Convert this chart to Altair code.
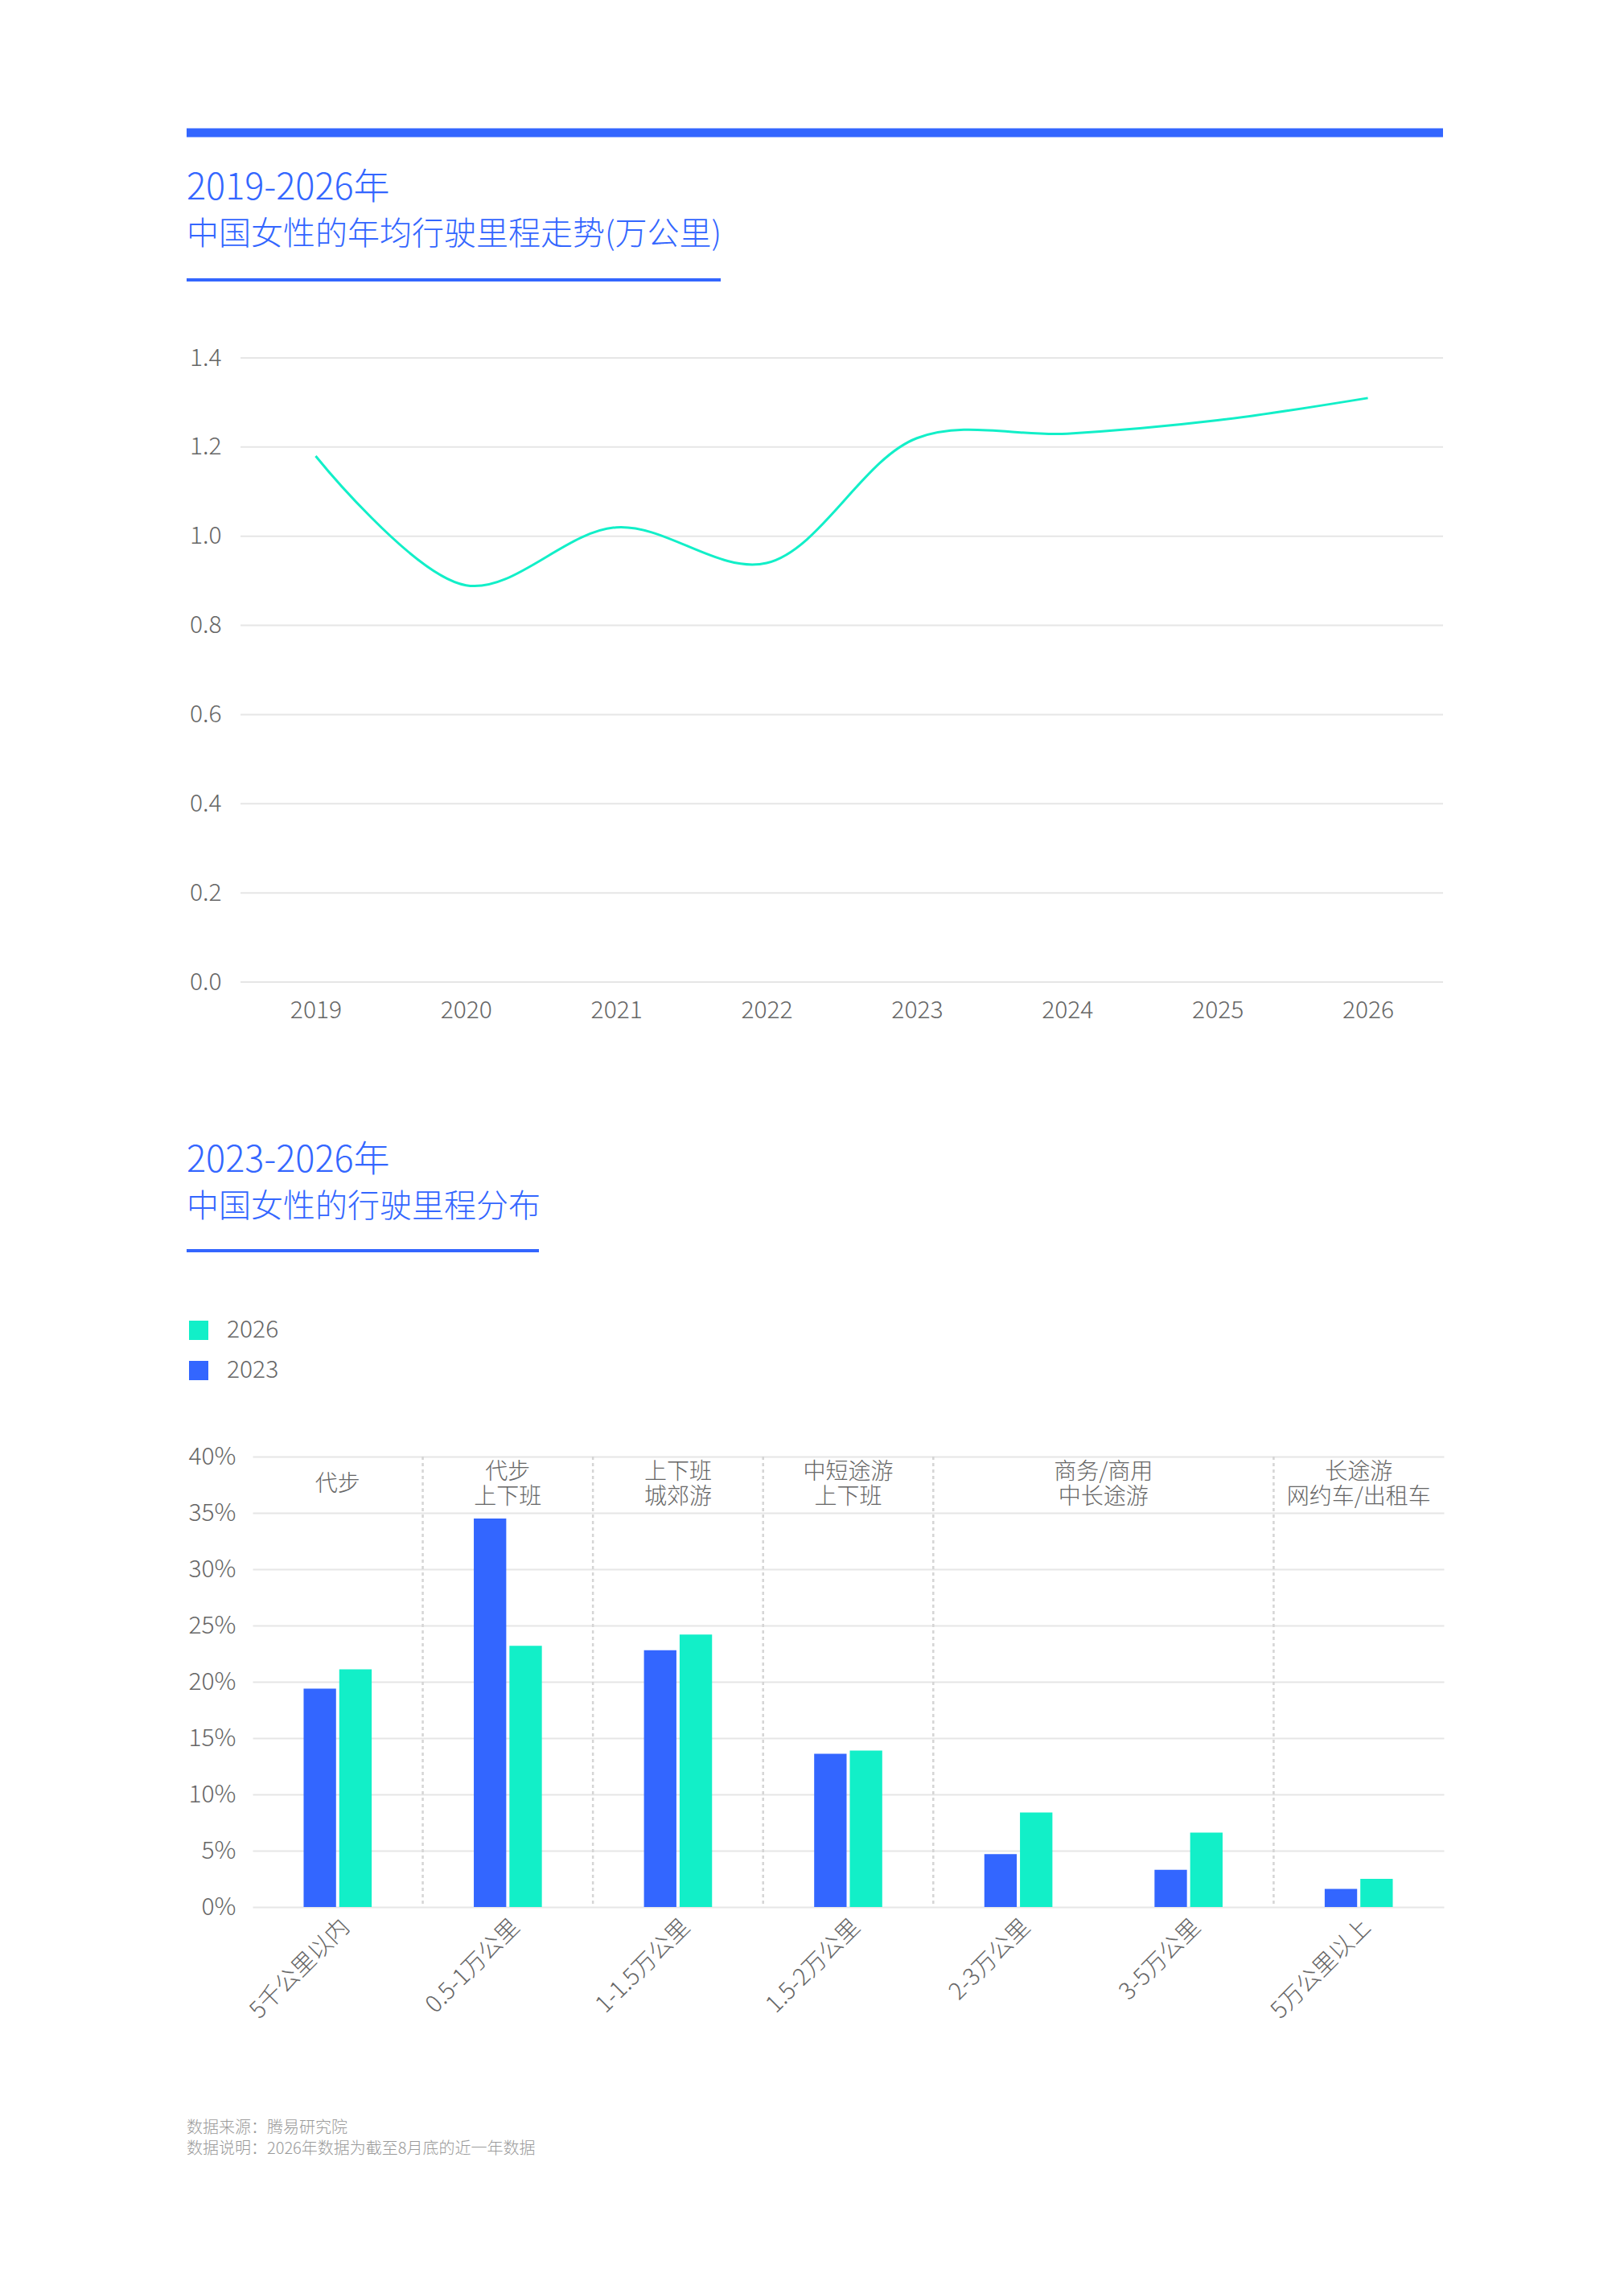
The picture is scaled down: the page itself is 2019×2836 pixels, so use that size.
import altair as alt
import pandas as pd

BLUE = "#3366FF"
TEAL = "#12EFC8"
GRAY = "#666666"
LIGHT = "#9a9a9a"
GRID = "#e6e6e6"
FONT = "Noto Sans CJK SC"

# ---------------- data ----------------
years = ["2019", "2020", "2021", "2022", "2023", "2024", "2025", "2026"]
mileage = [1.18, 0.89, 1.02, 0.94, 1.22, 1.23, 1.26, 1.31]
line_ticks = [0.0, 0.2, 0.4, 0.6, 0.8, 1.0, 1.2, 1.4]

title1 = ["2019-2026年", "中国女性的年均行驶里程走势(万公里)"]
title2 = ["2023-2026年", "中国女性的行驶里程分布"]

cats = ["5千公里以内", "0.5-1万公里", "1-1.5万公里", "1.5-2万公里",
        "2-3万公里", "3-5万公里", "5万公里以上"]
share_2023 = [19.4, 34.5, 22.8, 13.6, 4.7, 3.3, 1.6]
share_2026 = [21.1, 23.2, 24.2, 13.9, 8.4, 6.6, 2.5]
series = ["2023", "2026"]
legend_order = ["2026", "2023"]
pct_ticks = [0, 5, 10, 15, 20, 25, 30, 35, 40]

single_cats = [cats[0]]
single_labels = ["代步"]
double_cats = [cats[1], cats[2], cats[3], cats[6]]
double_labels = ["代步\n上下班", "上下班\n城郊游", "中短途游\n上下班", "长途游\n网约车/出租车"]
mid_cats = [cats[5]]
mid_labels = ["商务/商用\n中长途游"]
sep_cats = [cats[1], cats[2], cats[3], cats[4], cats[6]]

notes = ["数据来源：腾易研究院", "数据说明：2026年数据为截至8月底的近一年数据"]

L = -82  # left edge of titles/legend relative to the plot origin
one = pd.DataFrame({"k": [0]})


def title_marks(lines, y_first, y_second):
    a = alt.Chart(pd.DataFrame({"t": [lines[0]]})).mark_text(
        align="left", baseline="alphabetic", font=FONT, fontWeight=300, fontSize=45,
        color=BLUE
    ).encode(x=alt.value(L), y=alt.value(y_first), text="t:N")
    b = alt.Chart(pd.DataFrame({"t": [lines[1]]})).mark_text(
        align="left", baseline="alphabetic", font=FONT, fontWeight=300, fontSize=40,
        color=BLUE
    ).encode(x=alt.value(L), y=alt.value(y_second), text="t:N")
    return a, b


# ---------------- chart 1: line ----------------
W1, H1 = 1480, 776
EXT = -15  # line panel reaches a little further left than the bar panel

line_df = pd.DataFrame({"year": years, "v": mileage})
grid_df = pd.DataFrame({"tick": line_ticks})

y_axis1 = alt.Axis(title=None, values=line_ticks, format=".1f", domain=False,
                   ticks=False, grid=False, labelPadding=39, labelFontSize=30)
y_scale1 = alt.Scale(domain=[0, 1.4], nice=False)

grid1 = alt.Chart(grid_df).mark_rule(color=GRID, strokeWidth=2).encode(
    y=alt.Y("tick:Q", scale=y_scale1, axis=y_axis1),
    x=alt.value(EXT), x2=alt.value(W1),
)

line = alt.Chart(line_df).mark_line(
    interpolate="catmull-rom", color=TEAL, strokeWidth=3
).encode(
    x=alt.X("year:O", sort=years, scale=alt.Scale(padding=0.5, range=[EXT, W1]),
            axis=alt.Axis(title=None, labelAngle=0, domain=False, ticks=False,
                          grid=False, labelPadding=20, labelFontSize=30)),
    y=alt.Y("v:Q", scale=y_scale1, axis=y_axis1),
)

top_bar = alt.Chart(one).mark_rule(color=BLUE, strokeWidth=11).encode(
    x=alt.value(L), x2=alt.value(W1), y=alt.value(-280)
)
t1a, t1b = title_marks(title1, -197, -141)
u1 = alt.Chart(one).mark_rule(color=BLUE, strokeWidth=4).encode(
    x=alt.value(L), x2=alt.value(L + 664), y=alt.value(-97)
)

chart1 = alt.layer(grid1, top_bar, t1a, t1b, u1, line).properties(width=W1, height=H1)

# ---------------- chart 2: bars ----------------
W2, H2 = 1481, 560
HALF_CELL = W2 / len(cats) / 2
LH = 31

bar_df = pd.DataFrame({
    "cat": cats * 2,
    "year": [series[0]] * len(cats) + [series[1]] * len(cats),
    "share": share_2023 + share_2026,
})

cell_scale = alt.Scale(domain=cats, paddingInner=0, paddingOuter=0)

bars = alt.Chart(bar_df).mark_bar().encode(
    x=alt.X("cat:N", sort=cats, scale=alt.Scale(paddingInner=0.6, paddingOuter=0.3),
            axis=alt.Axis(title=None, labelAngle=-45, domain=False, ticks=False,
                          labelPadding=10, labelFontSize=29)),
    xOffset=alt.XOffset("year:N", sort=series, scale=alt.Scale(paddingInner=0.09)),
    y=alt.Y("share:Q", scale=alt.Scale(domain=[0, 40], nice=False),
            axis=alt.Axis(title=None, values=pct_ticks, labelExpr="datum.value + '%'",
                          domain=False, ticks=False, grid=True, labelPadding=21,
                          labelFontSize=30)),
    color=alt.Color("year:N", scale=alt.Scale(domain=legend_order, range=[TEAL, BLUE]),
                    legend=alt.Legend(title=None, orient="none", legendX=L, legendY=-172,
                                      direction="vertical", symbolType="square",
                                      symbolSize=576, symbolStrokeWidth=0,
                                      symbolOpacity=1, labelFontSize=30,
                                      labelColor=GRAY, labelFont=FONT,
                                      labelFontWeight=300, labelOffset=20,
                                      rowPadding=20, padding=0)),
)

seps = alt.Chart(pd.DataFrame({"cat": sep_cats})).mark_rule(
    color="#d5d5d5", strokeWidth=2.5, strokeDash=[4, 4]
).encode(
    x=alt.X("cat:N", scale=cell_scale, axis=None, bandPosition=0),
    y=alt.Y(datum=40), y2=alt.Y2(datum=0),
)


def seg_layer(cs, labels, dx=0, dy=0):
    return alt.Chart(pd.DataFrame({"cat": cs, "label": labels})).mark_text(
        baseline="middle", font=FONT, fontWeight=300, fontSize=28, color=GRAY,
        lineBreak="\n", lineHeight=LH, dx=dx, dy=dy
    ).encode(
        x=alt.X("cat:N", scale=cell_scale, axis=None),
        y=alt.Y(datum=37.5), text="label:N",
    )


seg1 = seg_layer(single_cats, single_labels)
seg2 = seg_layer(double_cats, double_labels, dy=-LH / 2)
seg3 = seg_layer(mid_cats, mid_labels, dx=-HALF_CELL, dy=-LH / 2)

t2a, t2b = title_marks(title2, -354, -298)
u2 = alt.Chart(one).mark_rule(color=BLUE, strokeWidth=4).encode(
    x=alt.value(L), x2=alt.value(L + 438), y=alt.value(-256)
)
foot = alt.Chart(pd.DataFrame({"t": ["\n".join(notes)]})).mark_text(
    align="left", baseline="alphabetic", font=FONT, fontWeight=300, fontSize=20,
    color=LIGHT, lineBreak="\n", lineHeight=26
).encode(x=alt.value(L), y=alt.value(841), text="t:N")

chart2 = alt.layer(seps, bars, seg1, seg2, seg3, t2a, t2b, u2, foot).resolve_scale(
    x="independent"
).properties(width=W2, height=H2)

chart = alt.vconcat(chart1, chart2, spacing=150).resolve_legend(
    color="independent"
).properties(
    padding={"left": 218, "top": 151, "right": 20, "bottom": 20},
    background="white",
).configure_view(stroke=None).configure_axis(
    labelFont=FONT, labelColor=GRAY, labelFontWeight=300, gridColor=GRID, gridWidth=2
)

chart.save("out.html", embed_options={"renderer": "svg", "actions": False})
